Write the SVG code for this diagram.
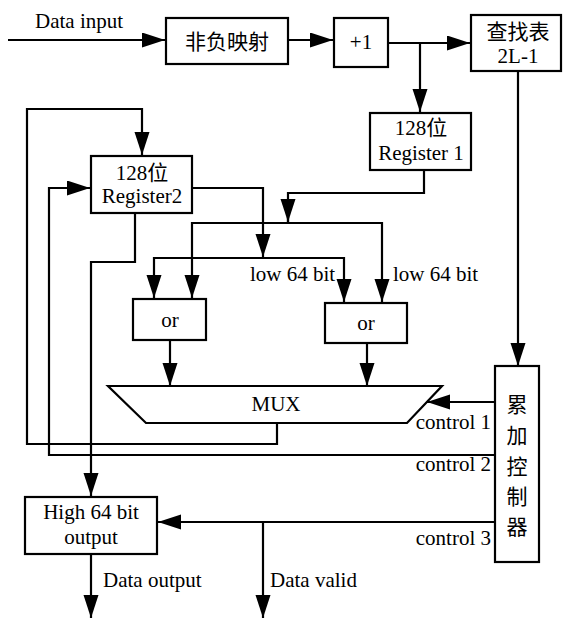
<svg xmlns="http://www.w3.org/2000/svg" width="565" height="623" viewBox="0 0 565 623">
<style>
.box{fill:#fff;stroke:#000;stroke-width:2.2}
.ln{fill:none;stroke:#000;stroke-width:2.2}
text{font-family:"Liberation Serif","Noto Sans CJK SC",serif;font-size:21px;fill:#000}
.c{text-anchor:middle}
.e{text-anchor:end}
</style>
<defs>
<marker id="ah" markerUnits="userSpaceOnUse" markerWidth="24" markerHeight="16" refX="23" refY="7.5" orient="auto">
<path d="M0,0 L23,7.5 L0,15 z" fill="#000"/>
</marker>
</defs>
<rect width="565" height="623" fill="#fff"/>
<g id="connectors">
<path class="ln" d="M8,40 H165" marker-end="url(#ah)"/>
<path class="ln" d="M288,40 H333" marker-end="url(#ah)"/>
<path class="ln" d="M388,43 H470" marker-end="url(#ah)"/>
<path class="ln" d="M420,43 V112" marker-end="url(#ah)"/>
<path class="ln" d="M518,71 V366" marker-end="url(#ah)"/>
<path class="ln" d="M424,170 V193 H288 V223"/>
<path class="ln" d="M288,205 V222" marker-end="url(#ah)"/>
<path class="ln" d="M288,223 H192 V298" marker-end="url(#ah)"/>
<path class="ln" d="M288,223 H382 V302" marker-end="url(#ah)"/>
<path class="ln" d="M192,188 H263 V257" marker-end="url(#ah)"/>
<path class="ln" d="M263,258 H154 V298" marker-end="url(#ah)"/>
<path class="ln" d="M263,258 H344 V302" marker-end="url(#ah)"/>
<path class="ln" d="M170,340 V386" marker-end="url(#ah)"/>
<path class="ln" d="M367,343 V386" marker-end="url(#ah)"/>
<path class="ln" d="M277,423 V444 H27 V109 H142 V155" marker-end="url(#ah)"/>
<path class="ln" d="M495,402 H427" marker-end="url(#ah)"/>
<path class="ln" d="M495,455 H49 V188 H90" marker-end="url(#ah)"/>
<path class="ln" d="M135,213 V262 H91 V496" marker-end="url(#ah)"/>
<path class="ln" d="M495,522 H158" marker-end="url(#ah)"/>
<path class="ln" d="M263,522 V618" marker-end="url(#ah)"/>
<path class="ln" d="M91,554 V618" marker-end="url(#ah)"/>
</g>
<g id="label-data-input"><text x="35" y="28">Data input</text></g>
<g id="node-map"><rect class="box" x="166" y="18" width="122" height="46"/><text class="c" x="227" y="49">非负映射</text></g>
<g id="node-plus1"><rect class="box" x="334" y="18" width="54" height="49"/><text class="c" x="361" y="49">+1</text></g>
<g id="node-lut"><rect class="box" x="471" y="15" width="90" height="56"/><text class="c" x="518" y="39">查找表</text><text class="c" x="518" y="63">2L-1</text></g>
<g id="node-reg1"><rect class="box" x="370" y="113" width="101" height="57"/><text class="c" x="421" y="135">128位</text><text class="c" x="421" y="160">Register 1</text></g>
<g id="node-reg2"><rect class="box" x="91" y="156" width="101" height="57"/><text class="c" x="142" y="180">128位</text><text class="c" x="142" y="203">Register2</text></g>
<g id="label-low1"><text x="250" y="281">low 64 bit</text></g>
<g id="label-low2"><text x="393" y="281">low 64 bit</text></g>
<g id="node-or1"><rect class="box" x="133" y="299" width="73" height="41"/><text class="c" x="170" y="327">or</text></g>
<g id="node-or2"><rect class="box" x="325" y="303" width="82" height="40"/><text class="c" x="366" y="330">or</text></g>
<g id="node-mux"><polygon class="box" points="108,386 442,386 407,423 146,423"/><text class="c" x="276" y="411">MUX</text></g>
<g id="node-ctrl"><rect class="box" x="495" y="366" width="44" height="196"/>
<text class="c" x="517" y="412">累</text><text class="c" x="517" y="443">加</text><text class="c" x="517" y="474">控</text><text class="c" x="517" y="504">制</text><text class="c" x="517" y="534">器</text></g>
<g id="label-controls"><text class="e" x="491" y="429">control 1</text><text class="e" x="491" y="471">control 2</text><text class="e" x="491" y="545">control 3</text></g>
<g id="node-high"><rect class="box" x="25" y="497" width="132" height="57"/><text class="c" x="91" y="519">High 64 bit</text><text class="c" x="91" y="544">output</text></g>
<g id="label-out"><text x="103" y="587">Data output</text><text x="270" y="587">Data valid</text></g>
</svg>
